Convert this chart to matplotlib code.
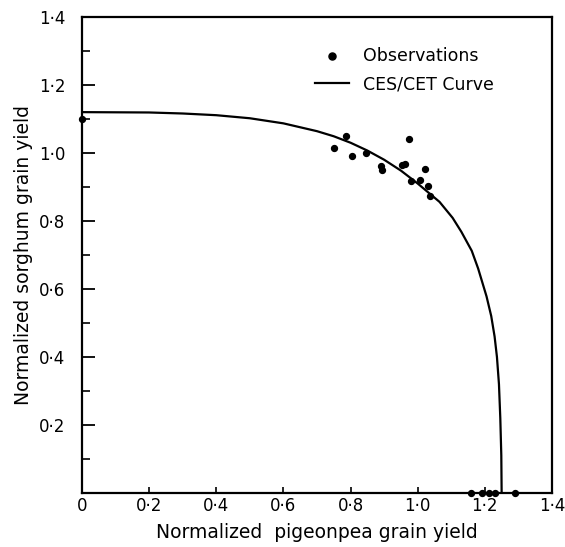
import matplotlib
matplotlib.use("Agg")
import matplotlib.pyplot as plt
from matplotlib.ticker import MultipleLocator

# observations (normalized yields)
obs_x = [0.0, 0.75, 0.786, 0.805, 0.847, 0.892, 0.894, 0.953, 0.961, 0.974,
         0.979, 1.006, 1.021, 1.031, 1.037, 1.16, 1.192, 1.212, 1.229, 1.289]
obs_y = [1.10, 1.014, 1.05, 0.99, 0.999, 0.963, 0.951, 0.964, 0.967, 1.041,
         0.916, 0.921, 0.953, 0.903, 0.874, 0.0, 0.0, 0.0, 0.0, 0.0]

# fitted CES/CET curve points
curve_x = [0.0, 0.2, 0.3, 0.4, 0.5, 0.6, 0.7, 0.75, 0.8, 0.85, 0.9, 0.95,
           1.0, 1.03, 1.065, 1.104, 1.13, 1.161, 1.18, 1.205, 1.219, 1.229,
           1.236, 1.242, 1.246, 1.249, 1.25]
curve_y = [1.12, 1.119, 1.116, 1.111, 1.102, 1.087, 1.064, 1.049, 1.03,
           1.007, 0.98, 0.948, 0.91, 0.885, 0.856, 0.809, 0.768, 0.712,
           0.66, 0.578, 0.52, 0.46, 0.40, 0.32, 0.22, 0.11, 0.0]

ticks = [0, 0.2, 0.4, 0.6, 0.8, 1.0, 1.2, 1.4]
xlabels = ["0", "0·2", "0·4", "0·6", "0·8", "1·0", "1·2", "1·4"]
ylabels = ["", "0·2", "0·4", "0·6", "0·8", "1·0", "1·2", "1·4"]

plt.rcParams["font.family"] = "DejaVu Sans"
fig = plt.figure(figsize=(5.65, 5.47), dpi=100)
ax = fig.add_axes([0.145, 0.099, 0.832, 0.870])

ax.plot(curve_x, curve_y, color="black", lw=1.6, label="CES/CET Curve")
ax.scatter(obs_x, obs_y, s=18, color="black", zorder=3, label="Observations",
           clip_on=False)

ax.set_xlim(0, 1.4)
ax.set_ylim(0, 1.4)
ax.set_xticks(ticks)
ax.set_xticklabels(xlabels)
ax.set_yticks(ticks)
ax.set_yticklabels(ylabels)
ax.yaxis.set_minor_locator(MultipleLocator(0.1))
ax.tick_params(axis="y", which="major", direction="in", length=9, width=1.3,
               labelsize=12, pad=12)
ax.tick_params(axis="y", which="minor", direction="in", length=6, width=1.2)
ax.tick_params(axis="x", which="major", direction="in", length=4, width=1.2,
               labelsize=12, pad=3)
for s in ax.spines.values():
    s.set_linewidth(1.6)

ax.set_xlabel("Normalized  pigeonpea grain yield", fontsize=13.5, labelpad=6)
ax.set_ylabel("Normalized sorghum grain yield", fontsize=13.5, labelpad=4)

h, l = ax.get_legend_handles_labels()
ax.legend(h[::-1], l[::-1], loc="upper right", bbox_to_anchor=(0.91, 0.97),
          frameon=False, fontsize=12.5, handlelength=2.0, markerscale=1.2,
          labelspacing=0.6)

plt.savefig("out.png", dpi=100)
